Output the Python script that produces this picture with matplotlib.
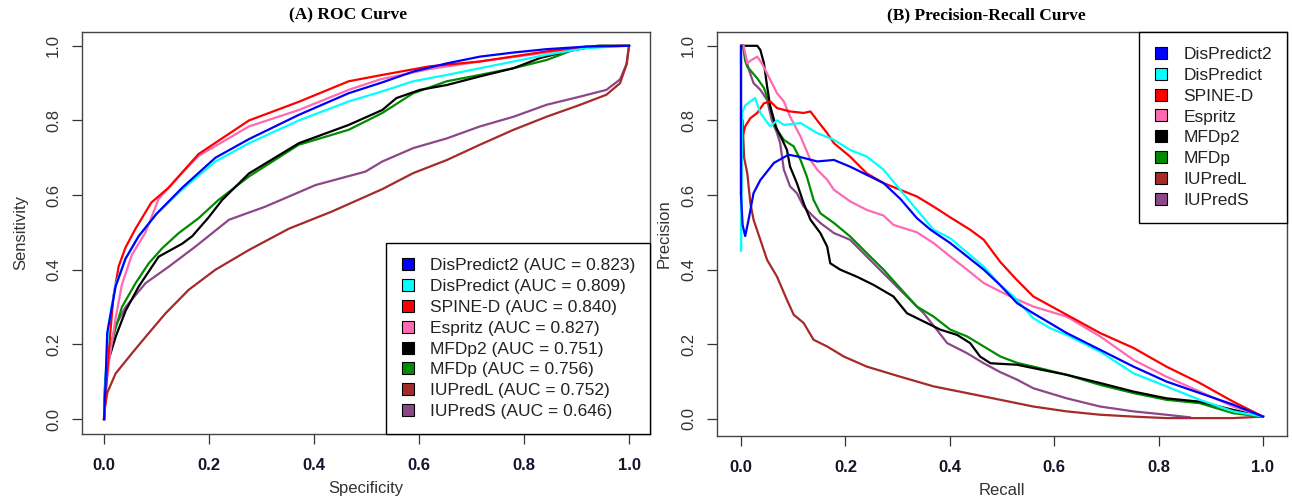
import matplotlib
matplotlib.use("Agg")
import matplotlib.pyplot as plt
from matplotlib.lines import Line2D

# ---- data ----
methods = ["DisPredict2", "DisPredict", "SPINE-D", "Espritz", "MFDp2", "MFDp", "IUPredL", "IUPredS"]
colors = ["#0000FF", "#00FFFF", "#FF0000", "#FF69B4", "#000000", "#008B00", "#A52A2A", "#8B4789"]
auc = ["0.823", "0.809", "0.840", "0.827", "0.751", "0.756", "0.752", "0.646"]

# ROC curves: (x, sensitivity)
roc_dispredict2 = [(0, 0), (0.003, 0.10), (0.006, 0.23), (0.022, 0.355), (0.041, 0.43), (0.066, 0.49),
                   (0.10, 0.55), (0.149, 0.62), (0.212, 0.70), (0.276, 0.75), (0.371, 0.815), (0.466, 0.873),
                   (0.53, 0.902), (0.589, 0.931), (0.653, 0.953), (0.716, 0.971), (0.78, 0.982),
                   (0.843, 0.991), (0.92, 0.998), (1, 1)]
roc_dispredict = [(0, 0), (0.003, 0.12), (0.008, 0.25), (0.022, 0.36), (0.041, 0.43), (0.066, 0.49),
                  (0.10, 0.55), (0.149, 0.615), (0.212, 0.69), (0.276, 0.739), (0.371, 0.80), (0.466, 0.851),
                  (0.53, 0.878), (0.589, 0.905), (0.653, 0.922), (0.716, 0.94), (0.78, 0.958),
                  (0.843, 0.976), (0.92, 0.994), (1, 1)]
roc_spined = [(0, 0), (0.003, 0.06), (0.01, 0.20), (0.018, 0.33), (0.028, 0.41), (0.041, 0.46),
              (0.06, 0.51), (0.09, 0.58), (0.123, 0.62), (0.18, 0.71), (0.276, 0.80), (0.371, 0.85),
              (0.466, 0.905), (0.53, 0.922), (0.62, 0.945), (0.716, 0.958), (0.843, 0.985),
              (0.92, 0.998), (1, 1)]
roc_espritz = [(0, 0), (0.003, 0.08), (0.01, 0.16), (0.022, 0.27), (0.034, 0.36), (0.053, 0.44),
               (0.079, 0.50), (0.104, 0.59), (0.149, 0.66), (0.18, 0.705), (0.276, 0.784), (0.371, 0.828),
               (0.466, 0.882), (0.526, 0.91), (0.621, 0.938), (0.716, 0.958), (0.811, 0.976),
               (0.907, 0.994), (0.97, 1.0), (1, 1)]
roc_mfdp2 = [(0, 0), (0.002, 0.09), (0.004, 0.13), (0.009, 0.16), (0.022, 0.22), (0.041, 0.29),
             (0.066, 0.355), (0.104, 0.435), (0.149, 0.47), (0.168, 0.49), (0.199, 0.54), (0.225, 0.587),
             (0.276, 0.658), (0.371, 0.739), (0.466, 0.788), (0.53, 0.828), (0.557, 0.86), (0.602, 0.882),
             (0.653, 0.895), (0.716, 0.918), (0.78, 0.94), (0.83, 0.967), (0.881, 0.985), (0.939, 1.0), (1, 1)]
roc_mfdp = [(0, 0), (0.002, 0.10), (0.015, 0.21), (0.034, 0.30), (0.06, 0.364), (0.085, 0.417),
            (0.111, 0.458), (0.142, 0.498), (0.18, 0.538), (0.218, 0.587), (0.276, 0.65), (0.371, 0.735),
            (0.466, 0.775), (0.53, 0.82), (0.589, 0.873), (0.653, 0.905), (0.716, 0.922), (0.78, 0.94),
            (0.843, 0.962), (0.894, 0.989), (0.945, 1.0), (1, 1)]
roc_iupredl = [(0, 0), (0.002, 0.033), (0.006, 0.07), (0.022, 0.122), (0.053, 0.176), (0.085, 0.23),
               (0.117, 0.283), (0.161, 0.346), (0.212, 0.40), (0.276, 0.453), (0.352, 0.51), (0.434, 0.556),
               (0.53, 0.616), (0.589, 0.659), (0.653, 0.694), (0.716, 0.735), (0.78, 0.775), (0.843, 0.81),
               (0.907, 0.842), (0.957, 0.869), (0.983, 0.90), (0.996, 0.953), (1, 1)]
roc_iupreds = [(0, 0), (0.003, 0.10), (0.01, 0.18), (0.022, 0.25), (0.041, 0.30), (0.079, 0.364),
               (0.123, 0.408), (0.174, 0.462), (0.238, 0.534), (0.307, 0.569), (0.403, 0.627), (0.498, 0.663),
               (0.53, 0.69), (0.589, 0.726), (0.653, 0.752), (0.716, 0.784), (0.78, 0.81), (0.843, 0.842),
               (0.907, 0.864), (0.957, 0.882), (0.983, 0.91), (0.995, 0.95), (1, 1)]

# Precision-recall curves: (recall, precision)
pr_dispredict2 = [(0, 1.0), (0, 0.60), (0.003, 0.52), (0.008, 0.49), (0.014, 0.53), (0.024, 0.605),
                  (0.037, 0.64), (0.063, 0.686), (0.091, 0.708), (0.11, 0.703), (0.146, 0.69), (0.178, 0.694),
                  (0.209, 0.676), (0.241, 0.654), (0.273, 0.632), (0.305, 0.59), (0.337, 0.538), (0.363, 0.507),
                  (0.401, 0.471), (0.465, 0.40), (0.496, 0.359), (0.529, 0.31), (0.56, 0.283), (0.624, 0.23),
                  (0.688, 0.185), (0.752, 0.14), (0.815, 0.10), (0.879, 0.069), (0.943, 0.038), (1.0, 0.006)]
pr_dispredict = [(0, 1.0), (0, 0.45), (0.002, 0.82), (0.008, 0.84), (0.018, 0.851), (0.027, 0.86),
                 (0.037, 0.82), (0.056, 0.784), (0.069, 0.80), (0.082, 0.788), (0.114, 0.793), (0.146, 0.766),
                 (0.178, 0.748), (0.209, 0.721), (0.241, 0.703), (0.273, 0.668), (0.305, 0.614), (0.337, 0.56),
                 (0.369, 0.507), (0.401, 0.484), (0.465, 0.408), (0.496, 0.36), (0.522, 0.328), (0.56, 0.27),
                 (0.592, 0.243), (0.624, 0.225), (0.688, 0.18), (0.752, 0.122), (0.815, 0.087), (0.879, 0.051),
                 (0.943, 0.02), (1.0, 0.006)]
pr_spined = [(0, 1.0), (0, 0.60), (0.002, 0.75), (0.008, 0.784), (0.018, 0.806), (0.031, 0.82),
             (0.044, 0.846), (0.056, 0.851), (0.069, 0.833), (0.094, 0.824), (0.12, 0.82), (0.133, 0.824),
             (0.146, 0.80), (0.165, 0.766), (0.178, 0.739), (0.209, 0.703), (0.241, 0.658), (0.273, 0.632),
             (0.305, 0.614), (0.337, 0.596), (0.369, 0.569), (0.401, 0.54), (0.439, 0.507), (0.465, 0.48),
             (0.497, 0.42), (0.528, 0.373), (0.56, 0.328), (0.624, 0.279), (0.688, 0.23), (0.752, 0.19),
             (0.815, 0.14), (0.879, 0.096), (0.943, 0.046), (1.0, 0.006)]
pr_espritz = [(0.005, 1.0), (0.012, 0.953), (0.018, 0.96), (0.031, 0.971), (0.04, 0.953), (0.056, 0.909),
              (0.069, 0.873), (0.082, 0.851), (0.094, 0.81), (0.114, 0.757), (0.133, 0.694), (0.146, 0.668),
              (0.165, 0.641), (0.178, 0.614), (0.209, 0.583), (0.241, 0.56), (0.273, 0.545), (0.292, 0.52),
              (0.337, 0.50), (0.369, 0.471), (0.401, 0.435), (0.433, 0.40), (0.465, 0.364), (0.51, 0.332),
              (0.56, 0.301), (0.624, 0.274), (0.688, 0.221), (0.752, 0.158), (0.815, 0.113), (0.879, 0.073),
              (0.943, 0.033), (1.0, 0.006)]
pr_mfdp2 = [(0.002, 1.0), (0.031, 1.0), (0.037, 0.989), (0.044, 0.953), (0.05, 0.891), (0.056, 0.837),
            (0.066, 0.784), (0.079, 0.748), (0.088, 0.721), (0.094, 0.676), (0.107, 0.632), (0.12, 0.578),
            (0.133, 0.534), (0.152, 0.498), (0.165, 0.462), (0.171, 0.417), (0.19, 0.40), (0.222, 0.381),
            (0.254, 0.359), (0.292, 0.328), (0.318, 0.283), (0.35, 0.261), (0.382, 0.239), (0.414, 0.225),
            (0.439, 0.203), (0.458, 0.167), (0.478, 0.149), (0.529, 0.145), (0.56, 0.136), (0.624, 0.118),
            (0.688, 0.096), (0.752, 0.073), (0.815, 0.055), (0.879, 0.046), (0.943, 0.024), (1.0, 0.006)]
pr_mfdp = [(0.004, 1.0), (0.008, 0.96), (0.012, 0.944), (0.031, 0.913), (0.044, 0.887), (0.056, 0.837),
           (0.069, 0.775), (0.082, 0.748), (0.101, 0.73), (0.114, 0.694), (0.126, 0.65), (0.139, 0.587),
           (0.152, 0.551), (0.178, 0.525), (0.209, 0.489), (0.241, 0.444), (0.273, 0.40), (0.305, 0.35),
           (0.337, 0.301), (0.369, 0.274), (0.401, 0.239), (0.433, 0.221), (0.465, 0.194), (0.497, 0.167),
           (0.529, 0.15), (0.56, 0.14), (0.624, 0.118), (0.688, 0.091), (0.752, 0.069), (0.815, 0.051),
           (0.879, 0.042), (0.943, 0.015), (1.0, 0.006)]
pr_iupredl = [(0.003, 0.80), (0.006, 0.70), (0.012, 0.658), (0.018, 0.578), (0.024, 0.534), (0.037, 0.48),
              (0.05, 0.426), (0.069, 0.381), (0.088, 0.319), (0.101, 0.279), (0.12, 0.257), (0.139, 0.212),
              (0.165, 0.194), (0.197, 0.167), (0.241, 0.14), (0.305, 0.113), (0.369, 0.087), (0.433, 0.069),
              (0.497, 0.051), (0.56, 0.033), (0.624, 0.02), (0.688, 0.011), (0.752, 0.006), (0.815, 0.002),
              (0.943, 0.002), (1.0, 0.006)]
pr_iupreds = [(0.003, 1.0), (0.005, 0.989), (0.015, 0.936), (0.024, 0.90), (0.037, 0.882), (0.05, 0.855),
              (0.059, 0.80), (0.069, 0.766), (0.075, 0.739), (0.082, 0.668), (0.094, 0.623), (0.107, 0.605),
              (0.12, 0.569), (0.139, 0.542), (0.152, 0.525), (0.178, 0.498), (0.209, 0.48), (0.241, 0.435),
              (0.273, 0.39), (0.311, 0.337), (0.35, 0.283), (0.375, 0.239), (0.395, 0.203), (0.433, 0.176),
              (0.465, 0.149), (0.497, 0.125), (0.529, 0.105), (0.56, 0.082), (0.624, 0.055), (0.688, 0.033),
              (0.752, 0.02), (0.815, 0.011), (0.86, 0.004)]

roc_curves = [roc_dispredict2, roc_dispredict, roc_spined, roc_espritz, roc_mfdp2, roc_mfdp, roc_iupredl, roc_iupreds]
pr_curves = [pr_dispredict2, pr_dispredict, pr_spined, pr_espritz, pr_mfdp2, pr_mfdp, pr_iupredl, pr_iupreds]
ticks = [0.0, 0.2, 0.4, 0.6, 0.8, 1.0]

W, H = 1292, 501
fig = plt.figure(figsize=(W / 100, H / 100), dpi=100)
plt.rcParams['font.family'] = ['Liberation Sans', 'DejaVu Sans']


def px_axes(l, t, r, b):
    return fig.add_axes([l / W, 1 - b / H, (r - l) / W, (b - t) / H])


ax1 = px_axes(82, 32, 650, 434)
ax2 = px_axes(717, 32, 1287, 436)

for ax, curves in [(ax1, roc_curves), (ax2, pr_curves)]:
    # draw the first method last so it sits on top
    for pts, col in reversed(list(zip(curves, colors))):
        xs = [p[0] for p in pts]
        ys = [p[1] for p in pts]
        ax.plot(xs, ys, color=col, lw=1.6)
    ax.set_xticks(ticks)
    ax.set_yticks(ticks)
    ax.set_xticklabels([f"{t:.1f}" for t in ticks], fontweight='bold', fontsize=12, color='#15152a')
    ax.set_yticklabels([f"{t:.1f}" for t in ticks], rotation=90, va='center', fontsize=12, color='#333333')
    ax.tick_params(axis='x', length=7, width=0.9, color='#333333', pad=10)
    ax.tick_params(axis='y', length=7, width=0.9, color='#333333', pad=8)
    for s in ax.spines.values():
        s.set_color('#444444')
        s.set_linewidth(1.0)

ax1.set_xlim(-0.042, 1.04)
ax1.set_ylim(-0.04, 1.037)
ax2.set_xlim(-0.046, 1.046)
ax2.set_ylim(-0.046, 1.037)

lab = dict(fontsize=12, color='#333333')
ax1.set_xlabel("Specificity", labelpad=6, **lab)
ax1.set_ylabel("Sensitivity", labelpad=13, **lab)
ax2.set_xlabel("Recall", labelpad=6, **lab)
ax2.set_ylabel("Precision", labelpad=7, **lab)

fig.text(348 / W, 1 - 15 / H, "(A) ROC Curve", ha='center', va='center',
         fontfamily='Liberation Serif', fontweight='bold', fontsize=12.5)
fig.text(986 / W, 1 - 15 / H, "(B) Precision-Recall Curve", ha='center', va='center',
         fontfamily='Liberation Serif', fontweight='bold', fontsize=12.5)


def handles():
    return [Line2D([], [], ls='none', marker='s', markersize=9, markerfacecolor=c,
                   markeredgecolor='black', markeredgewidth=0.8) for c in colors]


leg_kw = dict(fontsize=12.5, frameon=True, fancybox=False, framealpha=1, edgecolor='black',
              borderaxespad=0, handlelength=0.85, handletextpad=0.85, labelspacing=0.33, borderpad=0.85)
l1 = ax1.legend(handles(), [f"{m} (AUC = {a})" for m, a in zip(methods, auc)], loc='lower right', **leg_kw)
l2 = ax2.legend(handles(), methods, loc='upper right', **leg_kw)
for lg in (l1, l2):
    lg.get_frame().set_linewidth(1.0)
    for t in lg.get_texts():
        t.set_color('#222222')

fig.savefig("out.png", dpi=100)
